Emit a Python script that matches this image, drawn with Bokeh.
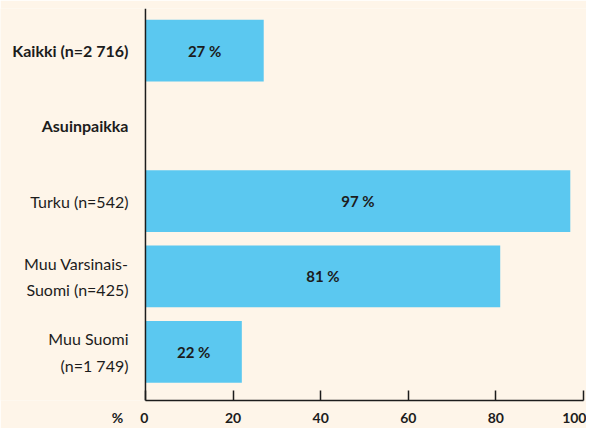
from bokeh.plotting import figure
from bokeh.models import Range1d, FixedTicker, Span, ColumnDataSource
from bokeh.core.properties import value
from bokeh.embed import file_html
from bokeh.resources import INLINE

categories = ["Kaikki (n=2 716)", "Asuinpaikka", "Turku (n=542)",
              "Muu Varsinais-\nSuomi (n=425)", "Muu Suomi\n(n=1 749)"]
label_bold = [True, True, False, False, False]
values = [27, None, 97, 81, 22]
x_ticks = [0, 20, 40, 60, 80, 100]
unit_label = "%"

BG = "#fef5e9"
BAR = "#5bc8f0"
INK = "#1c1c1c"
FONT = "Lato"

n = len(categories)
ypos = [n - 1 - i for i in range(n)]
y_start = -0.647

bar_y = [y for y, v in zip(ypos, values) if v is not None]
bar_v = [v for v in values if v is not None]
bar_src = ColumnDataSource(dict(y=bar_y, right=bar_v, mid=[v / 2 for v in bar_v],
                                lab=[f"{v} %" for v in bar_v]))

p = figure(width=586, height=428, output_backend="svg", toolbar_location=None,
           x_range=Range1d(-33.1, 100.7), y_range=Range1d(y_start, n - 1 + 0.558),
           y_axis_location=None, min_border_left=0, min_border_right=0,
           min_border_top=8, min_border_bottom=0)
p.background_fill_color = BG
p.border_fill_color = BG
p.outline_line_color = None
p.grid.visible = False

p.hbar(y="y", left=0, right="right", height=0.82, source=bar_src,
       fill_color=BAR, line_color=None)
p.text(x="mid", y="y", text="lab", source=bar_src, text_align="center",
       text_baseline="middle", text_font=value(FONT), text_font_style="bold",
       text_font_size="15px", text_color=INK)

for bold in (True, False):
    idx = [i for i in range(n) if label_bold[i] == bold]
    src = ColumnDataSource(dict(x=[0] * len(idx), y=[ypos[i] for i in idx],
                                t=[categories[i] for i in idx]))
    p.text(x="x", y="y", text="t", source=src, x_offset=-17, text_align="right",
           text_baseline="middle", text_font=value(FONT),
           text_font_style="bold" if bold else "normal", text_font_size="16px",
           text_color=INK, text_line_height=1.4)

p.add_layout(Span(location=0, dimension="height", line_color=INK, line_width=1.5))

NB = "\u00a0"
ax = p.xaxis[0]
ax.ticker = FixedTicker(ticks=x_ticks)
ax.bounds = (0, 100)
# unit sign shown left of the first tick label; the "0" stays centred on its tick
ax.major_label_overrides = {0: unit_label + NB * 5 + "0" + NB * 9}
ax.axis_line_color = INK
ax.axis_line_width = 1.5
ax.major_tick_line_color = INK
ax.major_tick_line_width = 1.5
ax.major_tick_in = 10
ax.major_tick_out = 0
ax.minor_tick_line_color = None
ax.major_label_standoff = 8
ax.major_label_text_font = FONT
ax.major_label_text_font_style = "bold"
ax.major_label_text_font_size = "14px"
ax.major_label_text_color = INK

open("out.html", "w").write(file_html(p, INLINE))
